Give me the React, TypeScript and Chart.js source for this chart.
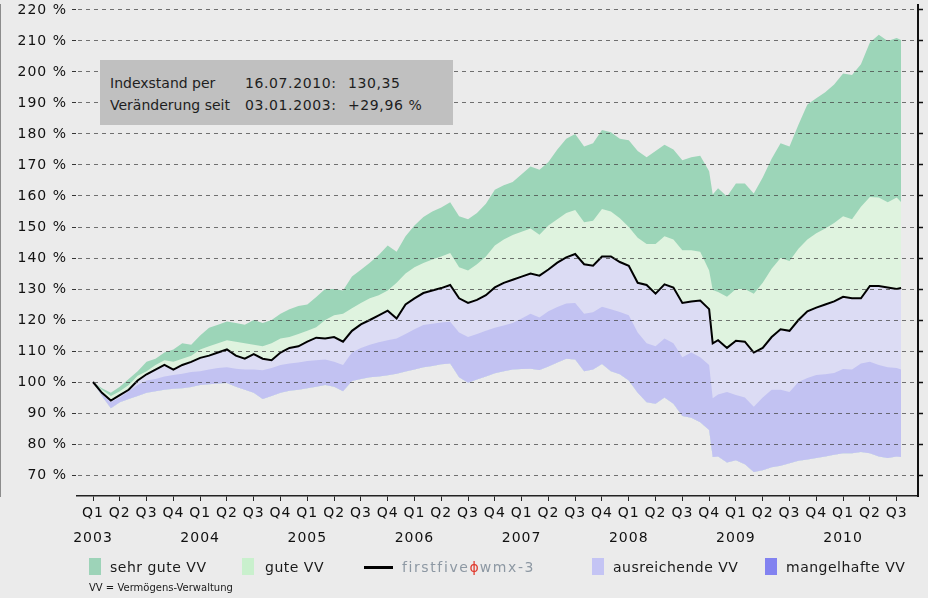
import React, { useEffect, useRef } from "react";
import { Chart, registerables } from "chart.js";

Chart.register(...registerables);

// x = months since January 2003 (0 = 03.01.2003), last point = 16.07.2010
const MONTHS = [
  0, 1, 2, 3, 4, 5, 6, 7, 8, 9, 10, 11, 12, 13, 14, 15, 16, 17, 18, 19, 20, 21, 22, 23, 24, 25, 26, 27, 28, 29,
  30, 31, 32, 33, 34, 35, 36, 37, 38, 39, 40, 41, 42, 43, 44, 45, 46, 47, 48, 49, 50, 51, 52, 53, 54, 55, 56, 57, 58, 59,
  60, 61, 62, 63, 64, 65, 66, 67, 68, 69, 69.4, 70, 71, 72, 73, 74, 75, 76, 77, 78, 79, 80, 81, 82, 83, 84, 85, 86, 87, 88, 89,
  90, 90.5,
];

// upper edge of "sehr gute VV"
const SEHR_GUT_TOP = [
  100, 98, 96.5, 98.5, 101, 103.5, 106.5, 107.5, 109.5, 110.5, 112.5, 112, 115, 117.5, 118.5, 119.5, 119, 118.5, 120, 119,
  120, 122, 123.5, 124.5, 125, 127.4, 130, 130, 129.5, 134, 136.2, 138.5, 141, 144, 142, 147, 150.5, 153.2, 155, 156.3,
  158, 153.5, 152.5, 154.5, 157.5, 162, 163.5, 164.5, 167, 169.5, 168.5, 171, 175, 178.5, 180, 176, 177, 181.3, 180.6, 178.5,
  178, 174.5, 172.5, 174.5, 176.5, 175, 171.5, 172.5, 173, 168, 160.5, 162.5, 159.8, 164, 164, 160.8, 166, 172, 177, 176,
  183, 189.5, 191.5, 193.5, 196, 199.5, 199, 202.5, 209.5, 212, 210, 211, 210.3,
];

// upper edge of "gute VV" (= lower edge of "sehr gute VV")
const GUT_TOP = [
  100, 97.5, 95.5, 97, 99, 102, 103.5, 105.5, 107, 106.5, 107.5, 108.5, 110.5, 111.5, 112.5, 113.5, 113, 112.5, 112, 111.5,
  112.5, 114, 114.5, 115.5, 116.5, 117.7, 120, 121.5, 122, 123.8, 125.5, 127, 128, 129.5, 132, 135, 137, 138.4, 139.5, 140.5,
  141.6, 137, 136, 138, 140.5, 144, 146, 147.4, 148.5, 149.5, 147.5, 150.5, 152.5, 154.5, 155.5, 151.5, 152, 155.8, 155, 152.8,
  150, 146.5, 144.5, 144.5, 147, 146, 142.5, 142.5, 142, 136, 129.7, 129, 127.5, 130, 130, 128.5, 132, 136.5, 140, 139,
  143, 146, 148, 149.5, 151.3, 153.5, 152.5, 156.5, 159.7, 159.5, 158, 159.5, 158,
];

// firstfive wmx-3 index
const INDEX = [
  100, 96.5, 94, 95.8, 97.5, 100.5, 102.5, 104, 105.5, 104, 105.5, 106.5, 107.8, 108.5, 109.5, 110.5, 108.5, 107.5, 109, 107.5,
  107, 109.5, 111, 111.5, 113, 114.3, 114, 114.5, 113, 116.5, 118.6, 120, 121.5, 123, 120.5, 125, 127, 128.7, 129.5, 130.3,
  131.3, 127, 125.5, 126.5, 128, 130.5, 132, 133, 134, 135, 134.3, 136.3, 138.5, 140.2, 141.3, 138, 137.5, 140.5, 140.5, 138.7,
  137.5, 132, 131.3, 128.5, 131.5, 130.5, 125.5, 126, 126.3, 123.5, 112.5, 113.5, 111, 113.3, 113, 109.5, 111, 114.5, 117, 116.5,
  120, 122.8, 124, 125, 126, 127.5, 127, 127, 131, 131, 130.5, 130, 130.35,
];

// lower edge of "ausreichende VV" (= upper edge of "mangelhafte VV")
const AUSREICHEND_BOTTOM = [
  100, 96, 93.5, 95, 97, 99, 100.5, 101, 101.8, 102.3, 102.7, 103.2, 103.5, 104, 104.5, 104.8, 104.3, 104, 104, 103.8,
  104.5, 105.5, 106, 106.3, 106.8, 107, 107.3, 106.5, 105.5, 109.5, 111, 112, 112.8, 113.5, 114, 115.5, 117, 118.4, 118.8, 119.2,
  119.4, 116, 114.5, 115.5, 116.5, 117.5, 118.2, 119, 120.5, 122, 120.8, 122.8, 124.2, 125.3, 125.5, 122, 122.5, 124.3, 123.5, 122.6,
  121.5, 116, 112.5, 111.5, 114, 112.5, 108, 109.5, 108, 105.5, 94.8, 96, 96.8, 95.8, 95, 92, 95, 97.5, 97.5, 96.8,
  100, 101.3, 102.3, 102.5, 102.9, 104.2, 104, 106, 106.5, 105.5, 104.8, 104.5, 104,
];

// lower edge of "mangelhafte VV"
const MANGELHAFT_BOTTOM = [
  100, 95.5, 91.5, 93.5, 94.5, 95.5, 96.5, 97, 97.5, 97.8, 98, 98.4, 99, 99.3, 99.5, 99.7, 98.5, 97.5, 96.5, 94.5,
  95.5, 96.5, 97.2, 97.5, 98, 98.5, 99, 98.5, 97, 100.3, 101, 101.5, 101.8, 102.2, 102.7, 103.4, 104, 104.8, 105.2, 105.7,
  106, 101.5, 99.8, 100.8, 101.8, 102.8, 103.5, 104, 104.2, 104.3, 103.9, 105, 106.3, 107.5, 107.3, 103.5, 104, 105.8, 103.5, 102.5,
  100.5, 96.5, 93.5, 93, 95, 93, 89, 88.5, 87, 84.5, 75.8, 76, 74, 74.8, 73.5, 71, 71.5, 72.5, 73, 73.8,
  74.6, 75, 75.5, 76, 76.5, 77, 77, 77.4, 77, 76, 75.5, 76, 75.8,
];

const Y_TICKS = [70, 80, 90, 100, 110, 120, 130, 140, 150, 160, 170, 180, 190, 200, 210, 220];
const QUARTER_LABELS = ["Q1", "Q2", "Q3", "Q4"];
const YEARS = [2003, 2004, 2005, 2006, 2007, 2008, 2009, 2010];
const LAST_QUARTER_MONTH = 90;

const FONT = "'DejaVu Sans', sans-serif";

const QUARTER_TICKS: number[] = [];
YEARS.forEach((yr, yi) => {
  for (let q = 0; q < 4; q++) {
    const m = yi * 12 + q * 3;
    if (m <= LAST_QUARTER_MONTH) QUARTER_TICKS.push(m);
  }
});

const pts = (ys: number[]) => MONTHS.map((m, i) => ({ x: m, y: ys[i] }));

const spacingPlugin = {
  id: "letterSpacing",
  beforeUpdate(chart: any) {
    chart.ctx.letterSpacing = "1px";
  },
  beforeDraw(chart: any) {
    chart.ctx.letterSpacing = "1px";
  },
};

export default function App() {
  const ref = useRef<HTMLCanvasElement | null>(null);

  useEffect(() => {
    if (!ref.current) return;
    const base = { pointRadius: 0, borderWidth: 0, borderColor: "transparent", tension: 0 };
    const chart = new Chart(ref.current, {
      type: "line",
      data: {
        datasets: [
          { ...base, label: "sehr gute VV", data: pts(SEHR_GUT_TOP), fill: 4, backgroundColor: "#9cd5b8", order: 5 },
          { ...base, label: "gute VV", data: pts(GUT_TOP), fill: 4, backgroundColor: "#dff3df", order: 4 },
          {
            ...base,
            label: "firstfive wmx-3",
            data: pts(INDEX),
            fill: 4,
            backgroundColor: "#dcdcf4",
            borderColor: "#000000",
            borderWidth: 2,
            order: 3,
          },
          { ...base, label: "ausreichende VV", data: pts(AUSREICHEND_BOTTOM), fill: 4, backgroundColor: "#c2c2f2", order: 2 },
          { ...base, label: "mangelhafte VV", data: pts(MANGELHAFT_BOTTOM), fill: false, order: 1 },
        ],
      } as any,
      options: {
        responsive: false,
        animation: false,
        events: [],
        layout: { padding: { top: 5, left: 0, right: 0, bottom: 0 } },
        plugins: {
          legend: { display: false },
          tooltip: { enabled: false },
          filler: { propagate: false, drawTime: "beforeDatasetsDraw" },
        },
        scales: {
          x: {
            type: "linear",
            min: -1.792,
            max: 92.39,
            afterBuildTicks: (s: any) => {
              s.ticks = QUARTER_TICKS.map((v) => ({ value: v }));
            },
            afterFit: (s: any) => {
              s.height = 102;
              s.paddingLeft = 0;
              s.paddingRight = 0;
            },
            ticks: {
              autoSkip: false,
              maxRotation: 0,
              minRotation: 0,
              padding: 0,
              color: "#111111",
              font: { family: FONT, size: 14, lineHeight: 25 / 14 },
              callback: (value: any) => {
                const q = Math.round(Number(value) / 3);
                const qi = q % 4;
                const label = QUARTER_LABELS[qi];
                return qi === 0 ? [label, String(YEARS[q / 4])] : label;
              },
            },
            grid: { drawOnChartArea: false, drawTicks: true, tickLength: 5, tickColor: "#222222", tickWidth: 1 },
            border: { color: "#222222", width: 1.5 },
          },
          y: {
            position: "left",
            min: 63.23,
            max: 221.61,
            afterBuildTicks: (s: any) => {
              s.ticks = Y_TICKS.map((v) => ({ value: v }));
            },
            afterFit: (s: any) => {
              s.width = 77;
              s.paddingTop = 0;
              s.paddingBottom = 0;
            },
            ticks: {
              padding: 5,
              color: "#111111",
              font: { family: FONT, size: 14 },
              callback: (v: any) => `${v} %`,
            },
            grid: {
              z: 1,
              color: "rgba(70,70,70,0.75)",
              lineWidth: 1,
              tickLength: 5,
              tickColor: "#333333",
              tickWidth: 1,
              tickBorderDash: [],
            },
            border: { color: "#8c8c8c", width: 2, dash: [4, 4] },
          },
          y2: {
            position: "right",
            min: 63.23,
            max: 221.61,
            afterBuildTicks: (s: any) => {
              s.ticks = Y_TICKS.map((v) => ({ value: v }));
            },
            afterFit: (s: any) => {
              s.width = 10;
              s.paddingTop = 0;
              s.paddingBottom = 0;
            },
            ticks: { display: false },
            grid: { drawOnChartArea: false, tickLength: 5, tickColor: "#111111", tickWidth: 1.5 },
            border: { color: "#111111", width: 2 },
          },
        },
      } as any,
      plugins: [spacingPlugin],
    });
    return () => chart.destroy();
  }, []);

  const legendText: React.CSSProperties = {
    position: "absolute",
    top: 558,
    height: 18,
    lineHeight: "18px",
    fontSize: 14,
    letterSpacing: "0.5px",
    color: "#1a1a1a",
    whiteSpace: "nowrap",
  };
  const box = (left: number, color: string): React.CSSProperties => ({
    position: "absolute",
    left,
    top: 558,
    width: 12,
    height: 17,
    background: color,
  });
  const infoText: React.CSSProperties = {
    position: "absolute",
    fontSize: 14,
    lineHeight: "18px",
    color: "#1e1e1e",
    whiteSpace: "nowrap",
  };

  return (
    <div
      style={{
        position: "fixed",
        left: 0,
        top: 0,
        width: 928,
        height: 598,
        background: "#ebebeb",
        fontFamily: FONT,
        overflow: "hidden",
      }}
    >
      <canvas ref={ref} width={928} height={598} style={{ display: "block", width: 928, height: 598 }} />

      <div style={{ position: "absolute", left: 100, top: 60, width: 353, height: 65, background: "#c0c0c0" }}>
        <span style={{ ...infoText, left: 10, top: 14 }}>Indexstand per</span>
        <span style={{ ...infoText, left: 145, top: 14, letterSpacing: "0.6px" }}>16.07.2010:</span>
        <span style={{ ...infoText, left: 248, top: 14, letterSpacing: "0.6px" }}>130,35</span>
        <span style={{ ...infoText, left: 10, top: 36 }}>Veränderung seit</span>
        <span style={{ ...infoText, left: 145, top: 36, letterSpacing: "0.6px" }}>03.01.2003:</span>
        <span style={{ ...infoText, left: 248, top: 36, letterSpacing: "0.6px" }}>+29,96 %</span>
      </div>

      <div style={box(89, "#9dd3b8")} />
      <span style={{ ...legendText, left: 110 }}>sehr gute VV</span>
      <div style={box(242, "#c9f0cd")} />
      <span style={{ ...legendText, left: 265 }}>gute VV</span>
      <div style={{ position: "absolute", left: 364, top: 566, width: 29, height: 3, background: "#000" }} />
      <span style={{ ...legendText, left: 402, color: "#8d98a3", letterSpacing: "1.6px" }}>
        firstfive<span style={{ color: "#e03a2e", letterSpacing: 0, margin: "0 1px 0 0" }}>ɸ</span>wmx-3
      </span>
      <div style={box(592, "#c4c4f4")} />
      <span style={{ ...legendText, left: 613 }}>ausreichende VV</span>
      <div style={box(765, "#8282f0")} />
      <span style={{ ...legendText, left: 786 }}>mangelhafte VV</span>

      <span
        style={{
          position: "absolute",
          left: 89,
          top: 581,
          fontSize: 10,
          lineHeight: "14px",
          color: "#1a1a1a",
          whiteSpace: "nowrap",
        }}
      >
        VV = Vermögens-Verwaltung
      </span>
    </div>
  );
}
